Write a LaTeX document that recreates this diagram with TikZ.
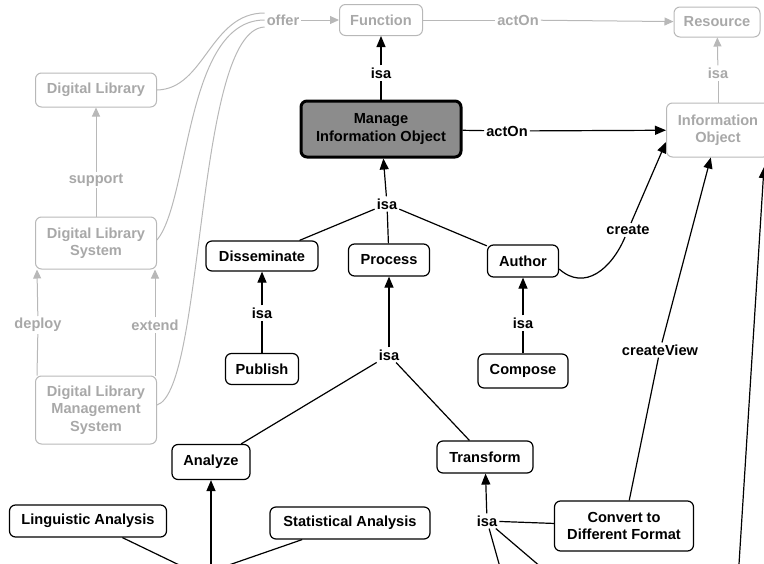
\documentclass[tikz,border=0pt]{standalone}
\usepackage{fontspec}
\setmainfont{Liberation Sans}
\usetikzlibrary{arrows.meta}
\definecolor{fadegray}{HTML}{A8A8A8}
\definecolor{fadeline}{HTML}{B8B8B8}
\definecolor{focusfill}{HTML}{8C8C8C}

\begin{document}
\begin{tikzpicture}[x=1pt,y=-1pt,
		every node/.style={font=\fontsize{14.6}{17.5}\selectfont\bfseries, align=center},
		concept/.style={draw, rounded corners=6pt, line width=1.2pt, inner sep=0pt},
		faded/.style={concept, draw=fadeline, text=fadegray, line width=1pt},
		focus/.style={concept, fill=focusfill, line width=3pt},
		rel/.style={fill=white, inner sep=2pt},
		fadedrel/.style={rel, text=fadegray},
		link/.style={line width=1.2pt},
		isa/.style={link, -{Triangle[width=9pt,length=11pt]}},
		fadedlink/.style={line width=1pt, draw=fadeline},
		fadedisa/.style={fadedlink, -{Triangle[width=8pt,length=9pt]}}]
	\clip (0,0) rectangle (764,563);
	% concepts
	\node[faded, minimum width=83, minimum height=31] (fn) at (381,20) {Function};
	\node[faded, minimum width=86, minimum height=30] (res) at (717,22) {Resource};
	\node[faded, minimum width=121, minimum height=34] (dl) at (96,90) {Digital Library};
	\node[focus, minimum width=160, minimum height=56] (man) at (381,129) {Manage\\Information Object};
	\node[faded, minimum width=103, minimum height=54] (io) at (718,130) {Information\\Object};
	\node[faded, minimum width=121, minimum height=52] (dls) at (96,243) {Digital Library\\System};
	\node[faded, minimum width=121, minimum height=68] (dlms) at (96,410) {Digital Library\\Management\\System};
	\node[concept, minimum width=112, minimum height=30] (diss) at (262,256) {Disseminate};
	\node[concept, minimum width=81, minimum height=32] (proc) at (389,260) {Process};
	\node[concept, minimum width=71, minimum height=32] (auth) at (523,261) {Author};
	\node[concept, minimum width=73, minimum height=31] (pub) at (262,369) {Publish};
	\node[concept, minimum width=90, minimum height=34] (comp) at (523,371) {Compose};
	\node[concept, minimum width=78, minimum height=35] (ana) at (211,462) {Analyze};
	\node[concept, minimum width=96, minimum height=32] (trans) at (485,457) {Transform};
	\node[concept, minimum width=157, minimum height=32] (ling) at (88,521) {Linguistic Analysis};
	\node[concept, minimum width=160, minimum height=32] (stat) at (350,523) {Statistical Analysis};
	\node[concept, minimum width=139, minimum height=50] (conv) at (624,526) {Convert to\\Different Format};
	% link labels
	\node[fadedrel] (offer) at (283,20) {offer};
	\node[fadedrel] (fnact) at (518,20) {actOn};
	\node[fadedrel] (ioisa) at (718,73) {isa};
	\node[fadedrel] (supp) at (96,180) {support};
	\node[fadedrel] (depl) at (38,325) {deploy};
	\node[fadedrel] (ext) at (155,325) {extend};
	\node[rel] (manisa) at (381,73) {isa};
	\node[rel] (manact) at (507,131) {actOn};
	\node[rel] (isaA) at (387,204) {isa};
	\node[rel] (isaB) at (262,313) {isa};
	\node[rel] (isaC) at (523,323) {isa};
	\node[rel] (isaD) at (389,355) {isa};
	\node[rel] (isaE) at (487,521) {isa};
	\node[rel] (crt) at (628,230) {create};
	\node[rel] (crtv) at (660,350) {createView};
	\coordinate (anaisa) at (200,575);
	\coordinate (botA) at (505,585);
	\coordinate (botB) at (562,585);
	\coordinate (farA) at (738,580);
	\coordinate (farB) at (764,167);

	% faded part
	\draw[fadedisa] (offer) -- (fn);
	\draw[fadedlink] (fn) -- (fnact);
	\draw[fadedisa] (fnact) -- (res);
	\draw[fadedlink] (io) -- (ioisa);
	\draw[fadedisa] (ioisa) -- (res);
	\draw[fadedlink] (dls) -- (supp);
	\draw[fadedisa] (supp) -- (dl);
	\draw[fadedlink] ([xshift=2pt]dlms.north west) -- (depl);
	\draw[fadedisa] (depl) -- ([xshift=2pt]dls.south west);
	\draw[fadedlink] ([xshift=-2pt]dlms.north east) -- (ext);
	\draw[fadedisa] (ext) -- ([xshift=-2pt]dls.south east);
	\draw[fadedlink] (dl.east) .. controls (205,89) and (210,13) .. ([yshift=7pt]offer.west);
	\draw[fadedlink] ([yshift=3pt]dls.east) .. controls (190,200) and (185,20) .. (offer.west);
	\draw[fadedlink] ([yshift=5pt]dlms.east) .. controls (205,390) and (195,30) .. ([yshift=-7pt]offer.west);

	% isa and actOn links
	\draw[link] (man) -- (manisa);
	\draw[isa] (manisa) -- (fn);
	\draw[link] (man) -- (manact);
	\draw[isa] (manact) -- (io);
	\draw[link] (diss) -- (isaA);
	\draw[link] (proc) -- (isaA);
	\draw[link] (auth) -- (isaA);
	\draw[isa] (isaA) -- (man);
	\draw[link] (pub) -- (isaB);
	\draw[isa] (isaB) -- (diss);
	\draw[link] (comp) -- (isaC);
	\draw[isa] (isaC) -- (auth);
	\draw[link] (ana) -- (isaD);
	\draw[link] (trans) -- (isaD);
	\draw[isa] (isaD) -- (proc);
	\draw[link] (conv) -- (isaE);
	\draw[isa] (isaE) -- (trans);
	\draw[link] (isaE) -- (botA);
	\draw[link] (isaE) -- (botB);
	\draw[link] (ling) -- (anaisa);
	\draw[link] (stat) -- (anaisa);
	\draw[isa] (ana |- anaisa) -- (ana);

	% create links
	\draw[link] ([yshift=-8pt]auth.east) .. controls (585,292) and (612,268) .. (crt);
	\draw[isa] (crt) -- ([yshift=-12pt]io.west);
	\draw[link] (conv) -- (crtv);
	\draw[isa] (crtv) -- (io);
	\draw[isa] (farA) -- (farB);
\end{tikzpicture}
\end{document}
